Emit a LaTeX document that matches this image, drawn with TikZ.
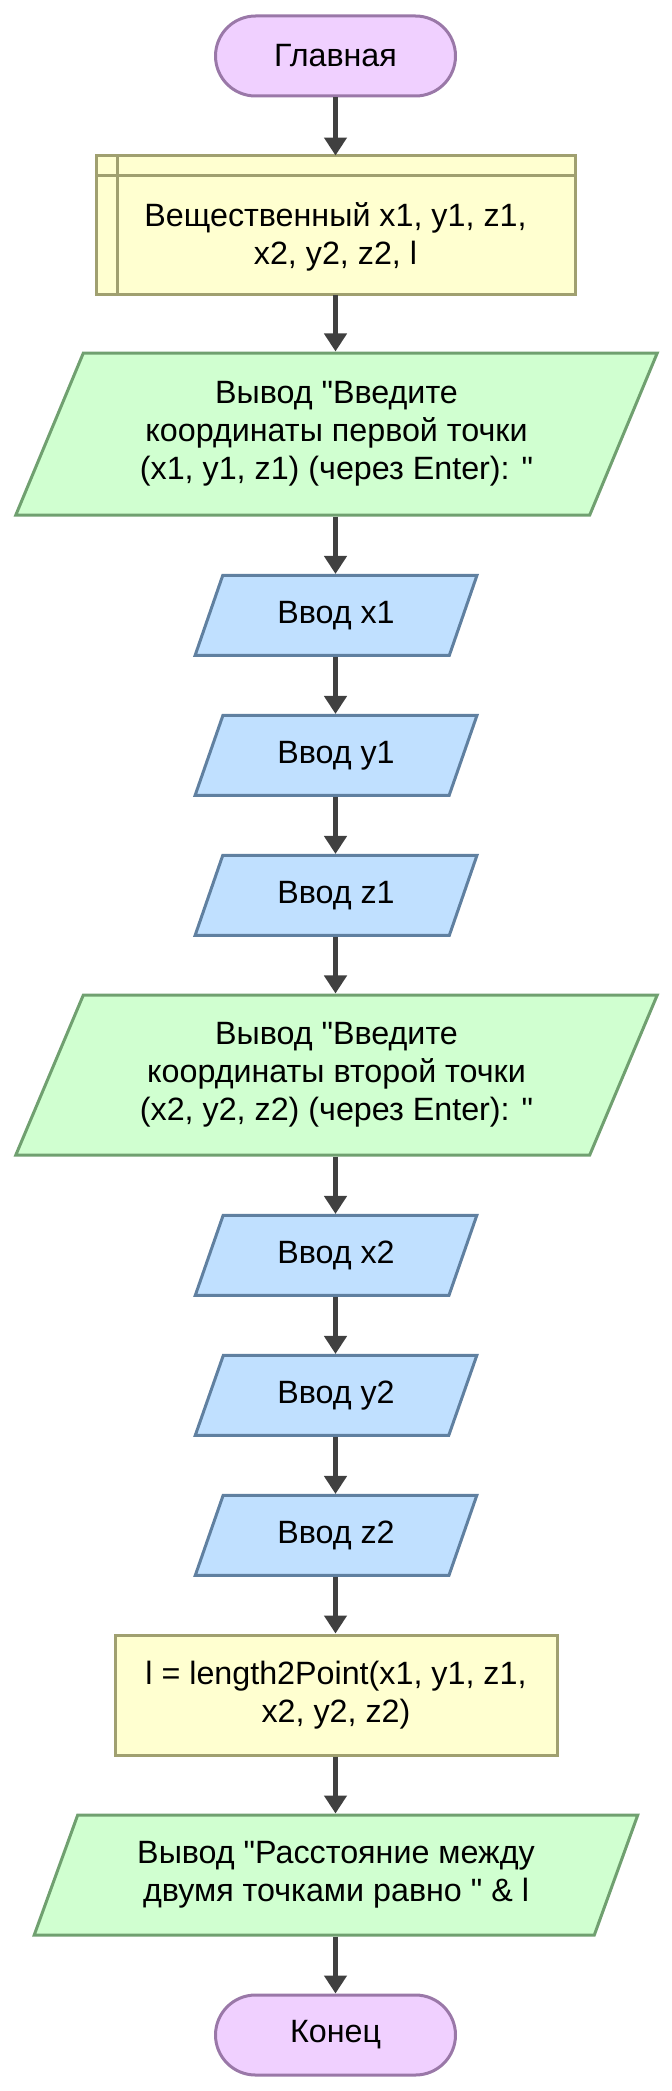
\documentclass[tikz,border=0pt]{standalone}
\usepackage{fontspec}
\setmainfont{Liberation Sans}[Ligatures=TeXOff]
\usetikzlibrary{shapes.geometric,arrows.meta}
\definecolor{termfill}{HTML}{F0D0FF}
\definecolor{termdraw}{HTML}{9A78A8}
\definecolor{declfill}{HTML}{FFFFD0}
\definecolor{decldraw}{HTML}{A0A070}
\definecolor{outfill}{HTML}{D0FFD0}
\definecolor{outdraw}{HTML}{70A070}
\definecolor{infill}{HTML}{C0E0FF}
\definecolor{indraw}{HTML}{6080A0}
\definecolor{arrcol}{HTML}{404040}
\tikzset{
  base/.style={font=\fontsize{24.2}{28.5}\selectfont, align=center, line width=2.25pt, inner sep=0pt, text=black},
  term/.style={base, rectangle, rounded corners=30pt, minimum width=180pt, minimum height=60pt, fill=termfill, draw=termdraw},
  declbox/.style={base, rectangle, outer sep=0pt, minimum width=359.25pt, minimum height=104.6pt, fill=declfill, draw=decldraw},
  declline/.style={line width=2.25pt, draw=decldraw},
  txt/.style={font=\fontsize{24.2}{28.5}\selectfont, align=center, inner sep=0pt, text=black},
  iobox/.style={base, trapezium, trapezium left angle=63.435, trapezium right angle=116.565, trapezium stretches=true},
  inbox/.style={iobox, fill=infill, draw=indraw, minimum width=211.5pt, minimum height=60pt},
  outbox/.style={iobox, fill=outfill, draw=outdraw},
  procbox/.style={base, rectangle, minimum width=331.5pt, minimum height=90pt, fill=declfill, draw=decldraw},
  arr/.style={draw=arrcol, line width=3.75pt, -{Triangle[width=16.5pt,length=13.5pt]}}
}
\begin{document}
\begin{tikzpicture}[x=1pt,y=-1pt]
\useasboundingbox (0,0) rectangle (503.25,1568.25);
\node[term] (start) at (251.625,42) {Главная};
\node[declbox] (decl) at (251.625,168.94) {};
\draw[declline] ([xshift=15.75pt]decl.north west) -- ([xshift=15.75pt]decl.south west);
\draw[declline] ([yshift=-15pt]decl.north west) -- ([yshift=-15pt]decl.north east);
\node[txt] (decltext) at ([yshift=-9pt]decl.center) {Вещественный x1, y1, z1,\\x2, y2, z2, l};
\node[outbox, minimum width=482.25pt, minimum height=121.5pt] (out1) at (252.4,325.5) {Вывод "Введите\\координаты первой точки\\(x1, y1, z1) (через Enter): "};
\node[inbox] (inx1) at (252,461.6) {Ввод x1};
\node[inbox] (iny1) at (252,566.6) {Ввод y1};
\node[inbox] (inz1) at (252,671.6) {Ввод z1};
\node[outbox, minimum width=482.25pt, minimum height=120pt] (out2) at (252.4,806.25) {Вывод "Введите\\координаты второй точки\\(x2, y2, z2) (через Enter): "};
\node[inbox] (inx2) at (252,941.6) {Ввод x2};
\node[inbox] (iny2) at (252,1046.6) {Ввод y2};
\node[inbox] (inz2) at (252,1151.6) {Ввод z2};
\node[procbox] (proc) at (252,1271.25) {l = length2Point(x1, y1, z1,\\x2, y2, z2)};
\node[outbox, minimum width=453pt, minimum height=90pt] (out3) at (252,1406.25) {Вывод "Расстояние между\\двумя точками равно " \& l};
\node[term] (end) at (251.625,1526.25) {Конец};
\draw[arr] (start) -- (decl);
\draw[arr] (decl) -- (out1.north -| decl);
\draw[arr] (out1.south -| decl) -- (inx1.north -| decl);
\draw[arr] (inx1.south -| decl) -- (iny1.north -| decl);
\draw[arr] (iny1.south -| decl) -- (inz1.north -| decl);
\draw[arr] (inz1.south -| decl) -- (out2.north -| decl);
\draw[arr] (out2.south -| decl) -- (inx2.north -| decl);
\draw[arr] (inx2.south -| decl) -- (iny2.north -| decl);
\draw[arr] (iny2.south -| decl) -- (inz2.north -| decl);
\draw[arr] (inz2.south -| decl) -- (proc.north -| decl);
\draw[arr] (proc.south -| decl) -- (out3.north -| decl);
\draw[arr] (out3.south -| decl) -- (end);
\end{tikzpicture}
\end{document}
